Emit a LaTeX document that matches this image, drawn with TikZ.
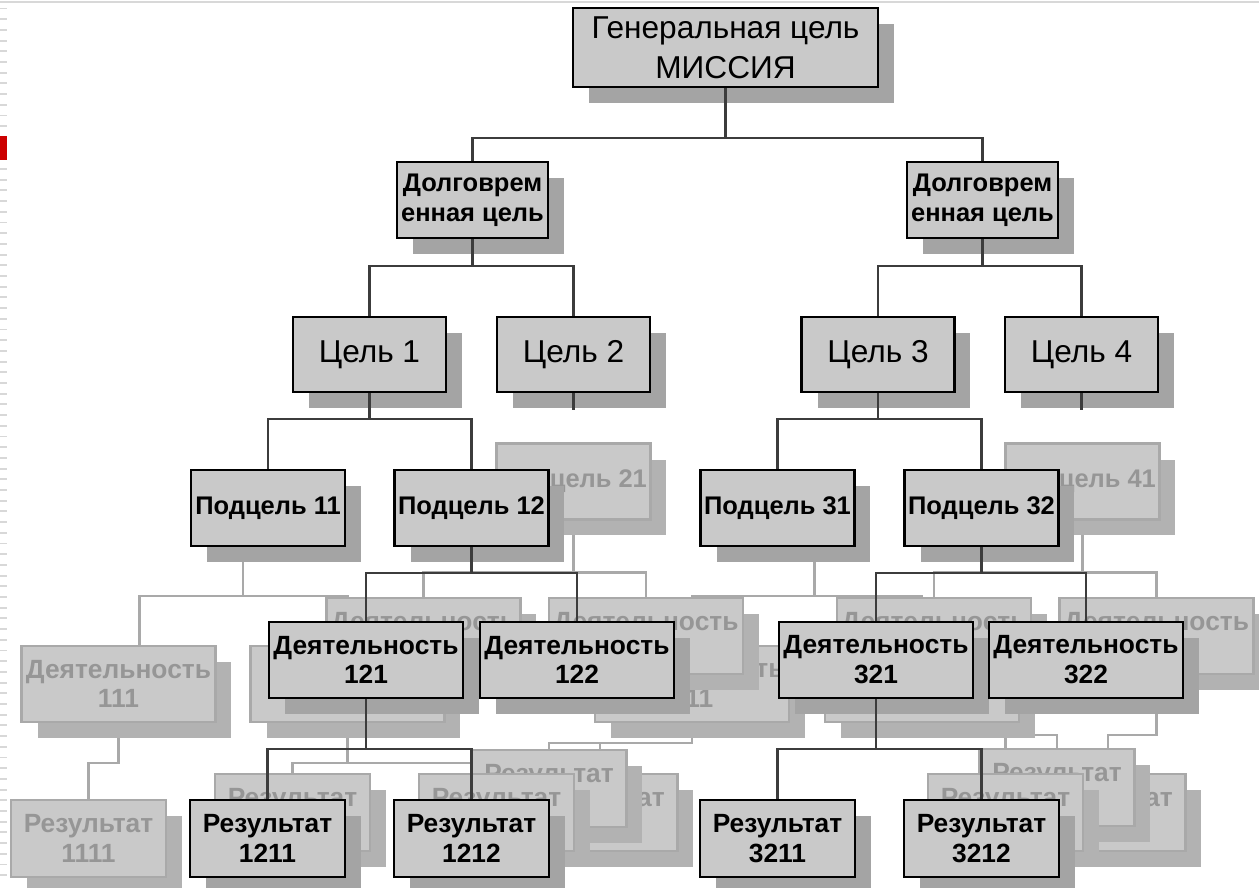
\documentclass[tikz,border=0pt]{standalone}
\usepackage{fontspec}
\setmainfont{Liberation Sans}
\usetikzlibrary{shadows,calc}

\definecolor{boxgray}{HTML}{C9C9C9}
\definecolor{shadowgray}{HTML}{A4A4A4}
\definecolor{ghostgray}{HTML}{A9A9A9}
\definecolor{ghostshadow}{HTML}{B2B2B2}
\definecolor{ghosttext}{HTML}{969696}
\definecolor{linkgray}{HTML}{3C3C3C}
\definecolor{edgegray}{HTML}{D8D8D8}
\definecolor{markred}{HTML}{CC0000}

\pgfdeclarelayer{ghostlinks}
\pgfdeclarelayer{ghosts}
\pgfsetlayers{ghostlinks,ghosts,main}

\begin{document}
\begin{tikzpicture}[x=0.02cm, y=-0.02cm,
    box/.style={draw=black, line width=1.5pt, fill=boxgray, align=center, inner sep=0pt,
        drop shadow={shadow xshift=0.32cm, shadow yshift=-0.32cm, fill=shadowgray, opacity=1}},
    ghost/.style={draw=ghostgray, line width=1.2pt, fill=boxgray, text=ghosttext, align=center, inner sep=0pt,
        drop shadow={shadow xshift=0.32cm, shadow yshift=-0.32cm, fill=ghostshadow, opacity=1}},
    mission/.style={minimum width=6.1cm, minimum height=1.58cm, font=\fontsize{18}{23}\selectfont},
    longterm/.style={minimum width=3.02cm, minimum height=1.52cm, font=\bfseries\fontsize{14.5}{17}\selectfont},
    goal/.style={minimum width=3.06cm, minimum height=1.5cm, font=\fontsize{18}{22}\selectfont},
    subgoal/.style={minimum width=3.08cm, minimum height=1.52cm, font=\bfseries\fontsize{14.5}{17}\selectfont},
    activity/.style={minimum width=3.88cm, minimum height=1.52cm, font=\bfseries\fontsize{15}{17}\selectfont},
    result/.style={minimum width=3.1cm, minimum height=1.54cm, font=\bfseries\fontsize{15}{17}\selectfont},
    link/.style={draw=linkgray, line width=1.3pt},
    ghostlink/.style={draw=ghostgray, line width=1.3pt}]

    \useasboundingbox (0,0) rectangle (1259,888);

    % page edge
    \draw[draw=edgegray, line width=0.6pt] (0,2) -- (1259,2);
    \foreach \y in {8.5,19.2,...,885}
        \draw[draw=edgegray, line width=1.1pt] (0,\y) -- (7,\y);
    \fill[fill=markred] (0,136) rectangle (7,160); % marker

    % Mission and long-term goals
    \node[box, mission] (mission) at (725.5,47.5) {Генеральная цель\\МИССИЯ};
    \node[box, longterm] (lta) at (472.5,200) {Долговрем\\енная цель};
    \node[box, longterm] (ltb) at (982.5,200) {Долговрем\\енная цель};

    % Goals
    \node[box, goal] (ga) at (369.5,354.5) {Цель 1};
    \node[box, goal] (gb) at (573.5,354.5) {Цель 2};
    \node[box, goal] (gc) at (878,354.5) {Цель 3};
    \node[box, goal] (gd) at (1081.5,354.5) {Цель 4};

    % Sub-goals
    \node[box, subgoal] (sa) at (268,508) {Подцель 11};
    \node[box, subgoal] (sb) at (471.5,508) {Подцель 12};
    \node[box, subgoal] (sc) at (777.5,508) {Подцель 31};
    \node[box, subgoal] (sd) at (981.5,508) {Подцель 32};

    % Activities
    \node[box, activity] (aa) at (366,660) {Деятельность\\121};
    \node[box, activity] (ab) at (577,660) {Деятельность\\122};
    \node[box, activity] (ac) at (876,660) {Деятельность\\321};
    \node[box, activity] (ad) at (1086,660) {Деятельность\\322};

    % Results
    \node[box, result] (ra) at (267.5,838.5) {Результат\\1211};
    \node[box, result] (rb) at (471.5,838.5) {Результат\\1212};
    \node[box, result] (rc) at (777.5,838.5) {Результат\\3211};
    \node[box, result] (rd) at (981.5,838.5) {Результат\\3212};

    % Links
    \draw[link] (mission.south) -- ++(0,50) -| (lta.north);
    \draw[link] (mission.south) -- ++(0,50) -| (ltb.north);
    \draw[link] (lta.south) -- ++(0,27) -| (ga.north);
    \draw[link] (lta.south) -- ++(0,27) -| (gb.north);
    \draw[link] (ltb.south) -- ++(0,27) -| (gc.north);
    \draw[link] (ltb.south) -- ++(0,27) -| (gd.north);
    \draw[link] (ga.south) -- ++(0,26) -| (sa.north);
    \draw[link] (ga.south) -- ++(0,26) -| (sb.north);
    \draw[link] (gc.south) -- ++(0,26) -| (sc.north);
    \draw[link] (gc.south) -- ++(0,26) -| (sd.north);
    \draw[link] (sb.south) -- ++(0,26) -| (aa.north);
    \draw[link] (sb.south) -- ++(0,26) -| (ab.north);
    \draw[link] (sd.south) -- ++(0,26) -| (ac.north);
    \draw[link] (sd.south) -- ++(0,26) -| (ad.north);
    \draw[link] (aa.south) -- ++(0,50) -| (ra.north);
    \draw[link] (aa.south) -- ++(0,50) -| (rb.north);
    \draw[link] (ac.south) -- ++(0,50) -| (rc.north);
    \draw[link] (ac.south) -- ++(0,50) -| (rd.north);
    \draw[link] (gb.south) -- ++(0,17) coordinate (gbstub); % stub
    \draw[link] (gd.south) -- ++(0,17) coordinate (gdstub); % stub

    % Sheets behind
    \begin{pgfonlayer}{ghosts}
        \node[ghost, activity] (gaa) at (118.5,684) {Деятельность\\111};
        \node[ghost, activity] (gab) at (347.5,684) {};
        \node[ghost, activity] (gac) at (692,684) {Деятельность\\311};
        \node[ghost, activity] (gad) at (922,684) {};

        \node[ghost, activity] (gAa) at (423.5,636) {Деятельность\\~};
        \node[ghost, activity] (gAb) at (646,636) {Деятельность\\~};
        \node[ghost, activity] (gAc) at (934,636) {Деятельность\\~};
        \node[ghost, activity] (gAd) at (1156.5,636) {Деятельность\\~};

        \node[ghost, subgoal] (gs21) at (573.5,481.5) {Подцель 21};
        \node[ghost, subgoal] (gs41) at (1082.5,481.5) {Подцель 41};

        \node[ghost, result] (gRe) at (600,812.5) {Результат\\~};
        \node[ghost, result] (gRd) at (549,788.5) {Результат\\~};
        \node[ghost, result] (gRb) at (292.5,812.5) {Результат\\~};
        \node[ghost, result] (gRc) at (496.5,812.5) {Результат\\~};
        \node[ghost, result] (gRa) at (88.5,838.5) {Результат\\1111};
        \node[ghost, result] (gRh) at (1108,812.5) {Результат\\~};
        \node[ghost, result] (gRg) at (1057,787.5) {Результат\\~};
        \node[ghost, result] (gRf) at (1005.5,812.5) {Результат\\~};
    \end{pgfonlayer}

    \begin{pgfonlayer}{ghostlinks}
        \draw[ghostlink] ($(sa.south)+(-25,0)$) -- ++(0,49) -| ($(gaa.north)+(21,0)$);
        \draw[ghostlink] ($(sa.south)+(-25,0)$) -- ++(0,49) -| (gab.north);
        \draw[ghostlink] ($(sc.south)+(37,0)$) -- ++(0,49) -| (gac.north);
        \draw[ghostlink] ($(sc.south)+(37,0)$) -- ++(0,49) -| (gad.north);
        \draw[ghostlink] (gs21.south) -- ++(0,52) -| (gAa.north);
        \draw[ghostlink] (gs21.south) -- ++(0,52) -| (gAb.north);
        \draw[ghostlink] (gs41.south) -- ++(0,52) -| (gAc.north);
        \draw[ghostlink] (gs41.south) -- ++(0,52) -| (gAd.north);
        \draw[ghostlink] (gaa.south) -- ++(0,40) -| (gRa.north);
        \draw[ghostlink] (gab.south) -- ++(0,40) -| (gRb.north);
        \draw[ghostlink] (gab.south) -- ++(0,40) -| (gRc.north);
        \draw[ghostlink] (gac.south) -- ++(0,20) -| (gRd.north);
        \draw[ghostlink] (gac.south) -- ++(0,20) -| (gRe.north);
        \draw[ghostlink] (gad.south) -- ++(0,12) -| (gRg.north);
        \draw[ghostlink] (gad.south) -- ++(0,12) -| (gRf.north);
        \draw[ghostlink] (gAd.south) -- ++(0,60) -| (gRh.north);
    \end{pgfonlayer}

\end{tikzpicture}
\end{document}
